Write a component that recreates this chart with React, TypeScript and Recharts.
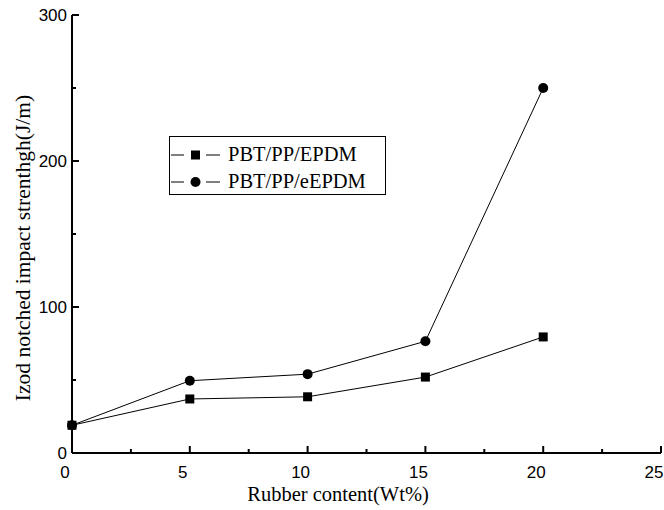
import React from 'react';
import { LineChart, Line, XAxis, YAxis, Legend } from 'recharts';

// Rubber content (wt%) and notched Izod impact strength (J/m)
const rubberContent = [0, 5, 10, 15, 20];
const epdmStrength = [19, 37, 38.5, 52, 79.5];
const eEpdmStrength = [19, 49.5, 54, 76.5, 250];

const xTicks = [0, 2.5, 5, 7.5, 10, 12.5, 15, 17.5, 20, 22.5, 25];
const yTicks = [0, 50, 100, 150, 200, 250, 300];

const seriesNames = ['PBT/PP/EPDM', 'PBT/PP/eEPDM'];

const data = rubberContent.map((x, i) => ({
  x,
  epdm: epdmStrength[i],
  eEpdm: eEpdmStrength[i],
}));

// plot box
const W = 664;
const H = 510;
const PL = 72;
const PR = 661;
const PT = 15;
const PB = 453;

const SANS = 'Liberation Sans, Arial, sans-serif';
const SERIF = 'Liberation Serif, DejaVu Serif, serif';

const BottomTick = (props: any) => {
  const { x, payload } = props;
  const major = payload.value % 5 === 0;
  return (
    <g>
      <line x1={x} x2={x} y1={PB} y2={PB - (major ? 7 : 4)} stroke="#000" strokeWidth={2} />
      {major && (
        <text x={x - 7} y={478} textAnchor="middle" fontSize={17} fontFamily={SANS} fill="#000">
          {payload.value}
        </text>
      )}
    </g>
  );
};

const TopTick = (props: any) => {
  const { x, payload } = props;
  const major = payload.value % 5 === 0;
  return <line x1={x} x2={x} y1={PT} y2={PT + (major ? 7 : 4)} stroke="#000" strokeWidth={2} />;
};

const LeftTick = (props: any) => {
  const { y, payload } = props;
  const major = payload.value % 100 === 0;
  return (
    <g>
      <line x1={PL} x2={PL + (major ? 7 : 4)} y1={y} y2={y} stroke="#000" strokeWidth={2} />
      {major && (
        <text x={67} y={y + 6} textAnchor="end" fontSize={17} fontFamily={SANS} fill="#000">
          {payload.value}
        </text>
      )}
    </g>
  );
};

const RightTick = (props: any) => {
  const { y, payload } = props;
  const major = payload.value % 100 === 0;
  return <line x1={PR} x2={PR - (major ? 7 : 4)} y1={y} y2={y} stroke="#000" strokeWidth={2} />;
};

const SquareDot = (props: any) => {
  const { cx, cy, index } = props;
  if (cx == null || cy == null) return null;
  return <rect key={`sq-${index}`} x={cx - 4.5} y={cy - 4.5} width={9} height={9} fill="#000" />;
};

const CircleDot = (props: any) => {
  const { cx, cy, index } = props;
  if (cx == null || cy == null) return null;
  return <circle key={`ci-${index}`} cx={cx} cy={cy} r={5} fill="#000" />;
};

const LegendBox = () => (
  <div
    style={{
      border: '1px solid #000',
      width: 217,
      height: 59,
      boxSizing: 'border-box',
      fontFamily: SERIF,
      fontSize: 20.5,
      color: '#000',
      paddingTop: 4,
    }}
  >
    {seriesNames.map((name, i) => (
      <div key={name} style={{ display: 'flex', alignItems: 'center', height: 27, lineHeight: '27px' }}>
        <svg width={58} height={20} style={{ flex: 'none' }}>
          <line x1={1} x2={14} y1={10} y2={10} stroke="#000" strokeWidth={1} />
          <line x1={36} x2={50} y1={10} y2={10} stroke="#000" strokeWidth={1} />
          {i === 0 ? (
            <rect x={21} y={5.5} width={9} height={9} fill="#000" />
          ) : (
            <circle cx={25.5} cy={10} r={5} fill="#000" />
          )}
        </svg>
        <span>{name}</span>
      </div>
    ))}
  </div>
);

export default function App() {
  return (
    <div style={{ position: 'absolute', left: 0, top: 0, width: W, height: H, background: '#fff' }}>
      <LineChart
        width={W}
        height={H}
        data={data}
        margin={{ top: PT, right: W - PR, bottom: 0, left: 0 }}
      >
        <XAxis
          dataKey="x"
          type="number"
          domain={[0, 25]}
          ticks={xTicks}
          interval={0}
          height={H - PB}
          axisLine={{ stroke: '#000', strokeWidth: 2 }}
          tickLine={false}
          tick={<BottomTick />}
        />
        <XAxis
          xAxisId="top"
          orientation="top"
          type="number"
          domain={[0, 25]}
          ticks={xTicks}
          interval={0}
          height={0}
          axisLine={{ stroke: '#000', strokeWidth: 2 }}
          tickLine={false}
          tick={<TopTick />}
        />
        <YAxis
          type="number"
          domain={[0, 300]}
          ticks={yTicks}
          interval={0}
          width={PL}
          axisLine={{ stroke: '#000', strokeWidth: 2 }}
          tickLine={false}
          tick={<LeftTick />}
        />
        <YAxis
          yAxisId="right"
          orientation="right"
          type="number"
          domain={[0, 300]}
          ticks={yTicks}
          interval={0}
          width={0}
          axisLine={{ stroke: '#000', strokeWidth: 2 }}
          tickLine={false}
          tick={<RightTick />}
        />
        <Legend
          layout="vertical"
          align="center"
          verticalAlign="middle"
          content={<LegendBox />}
          wrapperStyle={{ left: 169, top: 136, width: 'auto', height: 'auto' }}
        />
        <Line
          dataKey="eEpdm"
          name={seriesNames[1]}
          stroke="#000"
          strokeWidth={1}
          dot={<CircleDot />}
          activeDot={false}
          isAnimationActive={false}
        />
        <Line
          dataKey="epdm"
          name={seriesNames[0]}
          stroke="#000"
          strokeWidth={1}
          dot={<SquareDot />}
          activeDot={false}
          isAnimationActive={false}
        />
        <text x={338} y={501} textAnchor="middle" fontSize={20.5} fontFamily={SERIF} fill="#000">
          Rubber content(Wt%)
        </text>
        <text
          x={30}
          y={248}
          transform="rotate(-90 30 248)"
          textAnchor="middle"
          fontSize={21.5}
          fontFamily={SERIF}
          fill="#000"
        >
          Izod notched impact strenthgh(J/m)
        </text>
      </LineChart>
    </div>
  );
}
